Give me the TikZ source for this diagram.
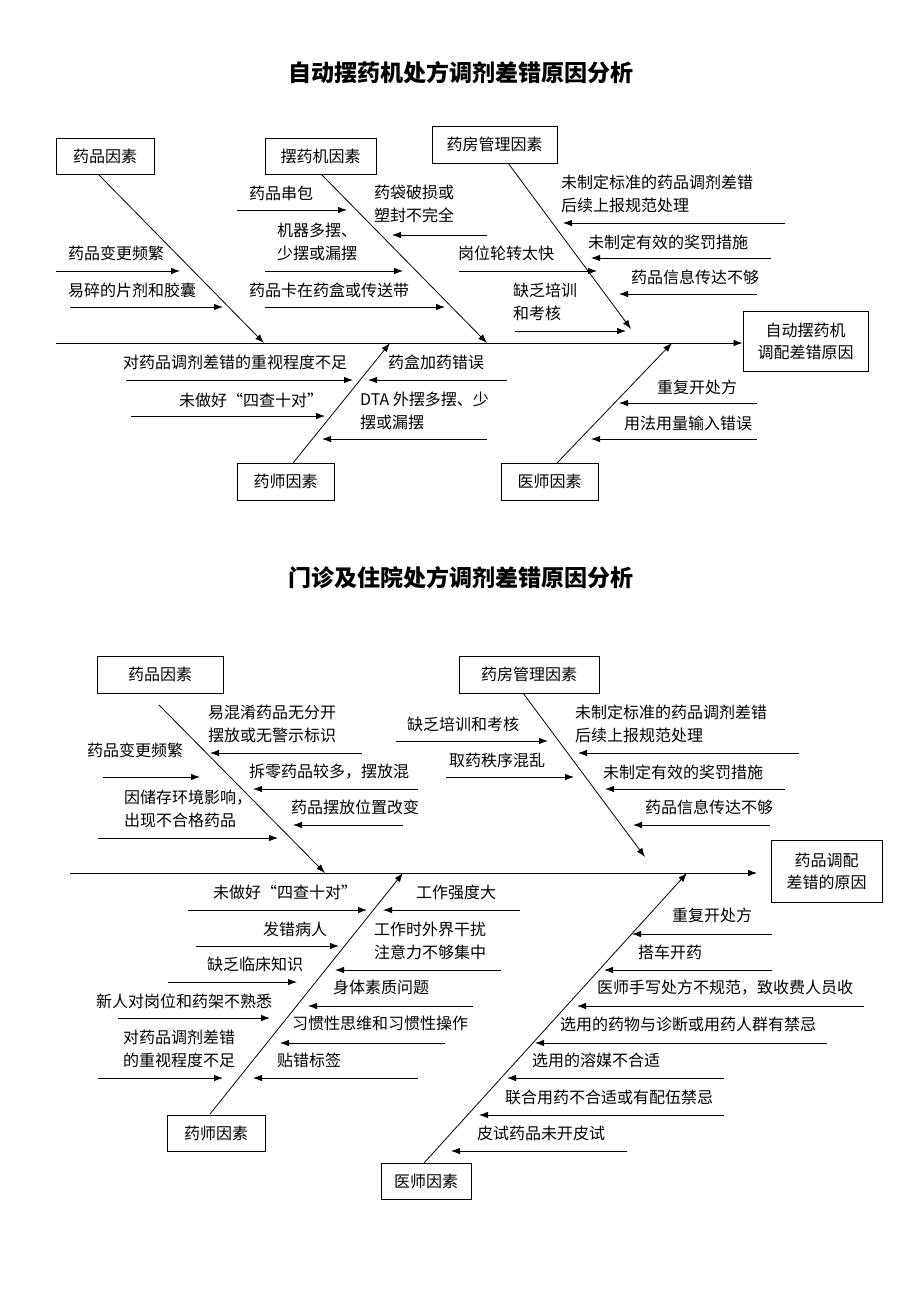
\documentclass[tikz,border=0pt]{standalone}
\usepackage{fontspec}
\setmainfont{Noto Sans CJK SC}
\usetikzlibrary{arrows.meta}
\newcommand\lblfont{\fontsize{16}{23}\selectfont}
\newcommand\carrow[4]{\coordinate (#1a) at (#2,#4); \coordinate (#1b) at (#3,#4); \draw[arr] (#1a) -- (#1b);}
\tikzset{
  arr/.style={line width=0.8pt, -{Latex[length=9pt,width=6.5pt]}},
  lbl/.style={anchor=west, inner sep=0pt, align=left, font=\lblfont},
  box/.style={draw, line width=0.9pt, inner sep=0pt, align=center, font=\lblfont},
  ttl/.style={inner sep=0pt, font=\fontsize{23}{26}\selectfont\bfseries},
}
\begin{document}
\begin{tikzpicture}[x=1pt,y=-1pt]
\fill[white] (0,0) rectangle (920,1302);
\useasboundingbox (0,0) rectangle (920,1302);

% ================= Diagram 1 =================
\node[ttl] (title1) at (461,73) {自动摆药机处方调剂差错原因分析};

\node[box, minimum width=98pt, minimum height=36pt] (d1a) at (105,156) {药品因素};
\node[box, minimum width=111pt, minimum height=36pt] (d1b) at (320.5,156) {摆药机因素};
\node[box, minimum width=125pt, minimum height=37pt] (d1c) at (494.5,144.5) {药房管理因素};
\node[box, minimum width=97pt, minimum height=37pt] (d1d) at (285.5,481.5) {药师因素};
\node[box, minimum width=97pt, minimum height=37pt] (d1e) at (549.5,481.5) {医师因素};
\node[box, minimum width=125pt, minimum height=60pt, font=\fontsize{16}{22}\selectfont] (d1eff) at (805.5,341) {自动摆药机\\调配差错原因};

% spine
\coordinate (sp1s) at (56,343);
\draw[arr] (sp1s) -- (sp1s -| d1eff.west);

% bones
\coordinate (b1as) at (98,174);  \coordinate (b1ae) at (264,343);
\coordinate (b1bs) at (321,174); \coordinate (b1be) at (487,343);
\coordinate (b1cs) at (508,163); \coordinate (b1ce) at (631,329);
\coordinate (b1ds) at (293,463); \coordinate (b1de) at (390,343);
\coordinate (b1es) at (557,463); \coordinate (b1ee) at (672,343);
\draw[arr] (b1as) -- (b1ae);
\draw[arr] (b1bs) -- (b1be);
\draw[arr] (b1cs) -- (b1ce);
\draw[arr] (b1ds) -- (b1de);
\draw[arr] (b1es) -- (b1ee);

% labels diagram 1
\node[lbl] (l1) at (68,253) {药品变更频繁};
\carrow{r1}{56}{180}{271}
\node[lbl] (l2) at (68,290) {易碎的片剂和胶囊};
\carrow{r2}{70}{223}{307}
\node[lbl] (l3) at (249,193) {药品串包};
\carrow{r3}{237}{347}{210}
\node[lbl] (l4) at (374,204) {药袋破损或\\塑封不完全};
\carrow{r4}{487}{392}{235}
\node[lbl] (l5) at (277,241.5) {机器多摆、\\少摆或漏摆};
\carrow{r5}{265}{403}{271}
\node[lbl] (l6) at (249,290) {药品卡在药盒或传送带};
\carrow{r6}{265}{445}{307}
\node[lbl] (l7) at (561,193.5) {未制定标准的药品调剂差错\\后续上报规范处理};
\carrow{r7}{785}{563}{223}
\node[lbl] (l8) at (588,242) {未制定有效的奖罚措施};
\carrow{r8}{771}{591}{258}
\node[lbl] (l9) at (631,277) {药品信息传达不够};
\carrow{r9}{757}{619}{294}
\node[lbl] (l10) at (458,253) {岗位轮转太快};
\carrow{r10}{459}{597}{271}
\node[lbl] (l11) at (513,301.5) {缺乏培训\\和考核};
\carrow{r11}{515}{626}{331}
\node[lbl] (l12) at (123,362) {对药品调剂差错的重视程度不足};
\carrow{r12}{126}{353}{380}
\node[lbl] (l13) at (179,400) {未做好“四查十对”};
\carrow{r13}{131}{325}{416}
\node[lbl] (l14) at (388,362) {药盒加药错误};
\carrow{r14}{507}{368}{380}
\node[lbl] (l15) at (360,410.5) {DTA 外摆多摆、少\\摆或漏摆};
\carrow{r15}{487}{322}{439}
\node[lbl] (l16) at (657,387) {重复开处方};
\carrow{r16}{757}{619}{403}
\node[lbl] (l17) at (624,423) {用法用量输入错误};
\carrow{r17}{757}{591}{439}

% ================= Diagram 2 =================
\node[ttl] (title2) at (461,578) {门诊及住院处方调剂差错原因分析};

\node[box, minimum width=126pt, minimum height=37pt] (d2a) at (160,674.5) {药品因素};
\node[box, minimum width=140pt, minimum height=37pt] (d2b) at (529,674.5) {药房管理因素};
\node[box, minimum width=98pt, minimum height=36pt] (d2c) at (216,1133) {药师因素};
\node[box, minimum width=90pt, minimum height=36pt] (d2d) at (426,1181) {医师因素};
\node[box, minimum width=111pt, minimum height=62pt, font=\fontsize{16}{22}\selectfont] (d2eff) at (826.5,871) {药品调配\\差错的原因};

% spine
\coordinate (sp2s) at (70,873);
\coordinate (sp2e) at (757,873);
\draw[arr] (sp2s) -- (sp2e);

% bones
\coordinate (b2as) at (159,705);  \coordinate (b2ae) at (325,873);
\coordinate (b2bs) at (523,693);  \coordinate (b2be) at (645,857);
\coordinate (b2cs) at (210,1114); \coordinate (b2ce) at (403,873);
\coordinate (b2ds) at (424,1163); \coordinate (b2de) at (687,873);
\draw[arr] (b2as) -- (b2ae);
\draw[arr] (b2bs) -- (b2be);
\draw[arr] (b2cs) -- (b2ce);
\draw[arr] (b2ds) -- (b2de);

% labels diagram 2 - top
\node[lbl] (m1) at (208,723.5) {易混淆药品无分开\\摆放或无警示标识};
\carrow{s1}{362}{210}{753}
\node[lbl] (m2) at (87,750) {药品变更频繁};
\carrow{s2}{103}{200}{777}
\node[lbl] (m3) at (249,772) {拆零药品较多，摆放混};
\carrow{s3}{418}{253}{789}
\node[lbl] (m4) at (124,808.5) {因储存环境影响，\\出现不合格药品};
\carrow{s4}{98}{278}{838}
\node[lbl] (m5) at (291,807) {药品摆放位置改变};
\carrow{s5}{403}{293}{825}
\node[lbl] (m6) at (407,724) {缺乏培训和考核};
\carrow{s6}{396}{548}{741}
\node[lbl] (m7) at (449,760) {取药秩序混乱};
\carrow{s7}{446}{574}{777}
\node[lbl] (m8) at (575,724) {未制定标准的药品调剂差错\\后续上报规范处理};
\carrow{s8}{799}{578}{753}
\node[lbl] (m9) at (603,772) {未制定有效的奖罚措施};
\carrow{s9}{785}{605}{789}
\node[lbl] (m10) at (645,807) {药品信息传达不够};
\carrow{s10}{770}{633}{825}

% labels diagram 2 - pharmacist
\node[lbl] (m11) at (213,892) {未做好“四查十对”};
\carrow{s11}{188}{367}{910}
\node[lbl] (m12) at (263,929) {发错病人};
\carrow{s12}{196}{339}{946}
\node[lbl] (m13) at (207,964) {缺乏临床知识};
\carrow{s13}{168}{297}{982}
\node[lbl] (m14) at (96,1001) {新人对岗位和药架不熟悉};
\carrow{s14}{118}{270}{1018}
\node[lbl] (m15) at (123,1048.5) {对药品调剂差错\\的重视程度不足};
\carrow{s15}{98}{223}{1078}
\node[lbl] (m16) at (416,892) {工作强度大};
\carrow{s16}{520}{383}{910}
\node[lbl] (m17) at (374,940.5) {工作时外界干扰\\注意力不够集中};
\carrow{s17}{501}{335}{970}
\node[lbl] (m18) at (333,987) {身体素质问题};
\carrow{s18}{473}{308}{1006}
\node[lbl] (m19) at (292,1023) {习惯性思维和习惯性操作};
\carrow{s19}{445}{280}{1043}
\node[lbl] (m20) at (277,1060) {贴错标签};
\carrow{s20}{418}{253}{1078}

% labels diagram 2 - physician
\node[lbl] (m21) at (672,915) {重复开处方};
\carrow{s21}{772}{632}{934}
\node[lbl] (m22) at (638,952) {搭车开药};
\carrow{s22}{772}{604}{970}
\node[lbl] (m23) at (597,988) {医师手写处方不规范，致收费人员收};
\carrow{s23}{864}{577}{1006}
\node[lbl] (m24) at (560,1024) {选用的药物与诊断或用药人群有禁忌};
\carrow{s24}{827}{535}{1043}
\node[lbl] (m25) at (532,1060) {选用的溶媒不合适};
\carrow{s25}{724}{507}{1078}
\node[lbl] (m26) at (505,1097) {联合用药不合适或有配伍禁忌};
\carrow{s26}{724}{479}{1115}
\node[lbl] (m27) at (477,1133) {皮试药品未开皮试};
\carrow{s27}{627}{451}{1151}
\end{tikzpicture}
\end{document}
